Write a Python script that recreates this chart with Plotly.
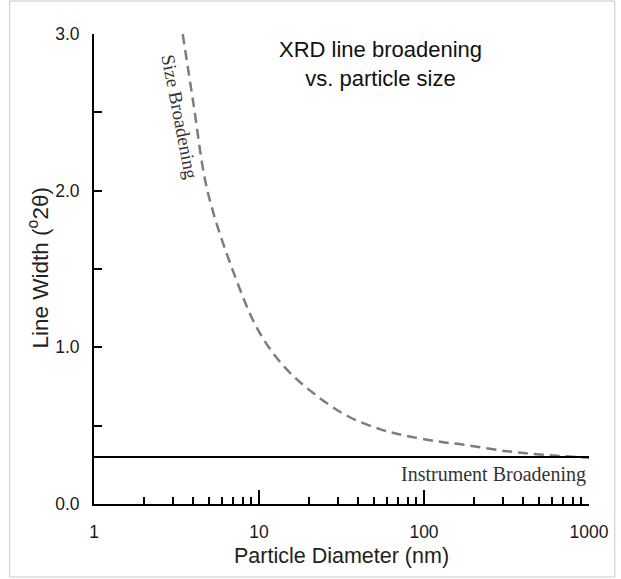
import plotly.graph_objects as go

# Data
size_d = [3.45, 4.0, 4.87, 7.0, 10, 14.4, 21.8, 34.6, 55, 76, 120, 174, 317, 527, 1000]
size_w = [3.0, 2.56, 2.0, 1.48, 1.10, 0.87, 0.70, 0.56, 0.475, 0.438, 0.40, 0.378, 0.337, 0.315, 0.295]
inst_d = [1, 1000]
inst_w = [0.3, 0.3]
x_major = [1, 10, 100, 1000]
x_major_text = ["1", "10", "100", "1000"]
x_minor = [m * 10 ** e for e in range(3) for m in range(2, 10)]
y_major = [0, 1, 2, 3]
y_major_text = ["0.0", "1.0", "2.0", "3.0"]

W, H = 621, 579
L, R, T, B = 94, 28, 34, 75

fig = go.Figure()
fig.add_trace(go.Scatter(x=size_d, y=size_w, mode="lines", line_shape="spline",
                         line=dict(color="#7d7d7d", width=2.5, dash="10px,6px"),
                         showlegend=False, hoverinfo="skip"))
fig.add_trace(go.Scatter(x=inst_d, y=inst_w, mode="lines",
                         line=dict(color="black", width=2),
                         showlegend=False, hoverinfo="skip"))

sans = "Liberation Sans, Arial, sans-serif"
serif = "Liberation Serif, Times New Roman, serif"

fig.update_layout(
    width=W, height=H,
    margin=dict(l=L, r=R, t=T, b=B, pad=0),
    paper_bgcolor="white", plot_bgcolor="white",
    font=dict(family=sans, color="#222", size=17),
    xaxis=dict(type="log", range=[0, 3], showgrid=False, zeroline=False,
               showline=True, linecolor="black", linewidth=2,
               ticks="inside", ticklen=14, tickwidth=2, tickcolor="black",
               tickmode="array", tickvals=x_major, ticktext=x_major_text,
               ticklabelstandoff=11,
               tickfont=dict(size=17.5, family=sans, color="#1a1a1a"),
               minor=dict(tickmode="array", tickvals=x_minor, ticks="inside",
                          ticklen=7, tickwidth=2, tickcolor="black", showgrid=False)),
    yaxis=dict(range=[0, 3], showgrid=False, zeroline=False,
               showline=True, linecolor="black", linewidth=2,
               ticks="inside", ticklen=8, tickwidth=2, tickcolor="black",
               tickmode="array", tickvals=y_major, ticktext=y_major_text,
               ticklabelstandoff=9,
               tickfont=dict(size=17.5, family=sans, color="#1a1a1a"),
               minor=dict(dtick=0.5, ticks="inside", ticklen=8, tickwidth=2,
                          tickcolor="black", showgrid=False)),
)

pw, ph = W - L - R, H - T - B
def px(xp):
    return (xp - L) / pw
def py(yp):
    return (H - B - yp) / ph

def note(text, x, y, size, family, angle=0, xanchor="center", color="#222"):
    fig.add_annotation(text=text, xref="paper", yref="paper", x=px(x), y=py(y),
                       xanchor=xanchor, yanchor="middle", textangle=angle,
                       showarrow=False, align="center",
                       font=dict(size=size, family=family, color=color))

note("XRD line broadening<br>vs. particle size", 383, 64, 22, sans, color="#111")
note("Line Width (<sup>o</sup>2θ)", 38, 268, 22.5, sans, angle=-90)
note("Particle Diameter (nm)", 343, 556, 21.5, sans)
note("Size Broadening", 180, 117, 19, serif, angle=79, color="#333")
note("Instrument Broadening", 592, 474, 20, serif, xanchor="right", color="#333")

fig.add_shape(type="rect", xref="paper", yref="paper",
              x0=px(9), x1=px(619), y0=py(1), y1=py(577),
              line=dict(color="#c8c8c8", width=1), layer="below")

fig.write_html("out.html")
